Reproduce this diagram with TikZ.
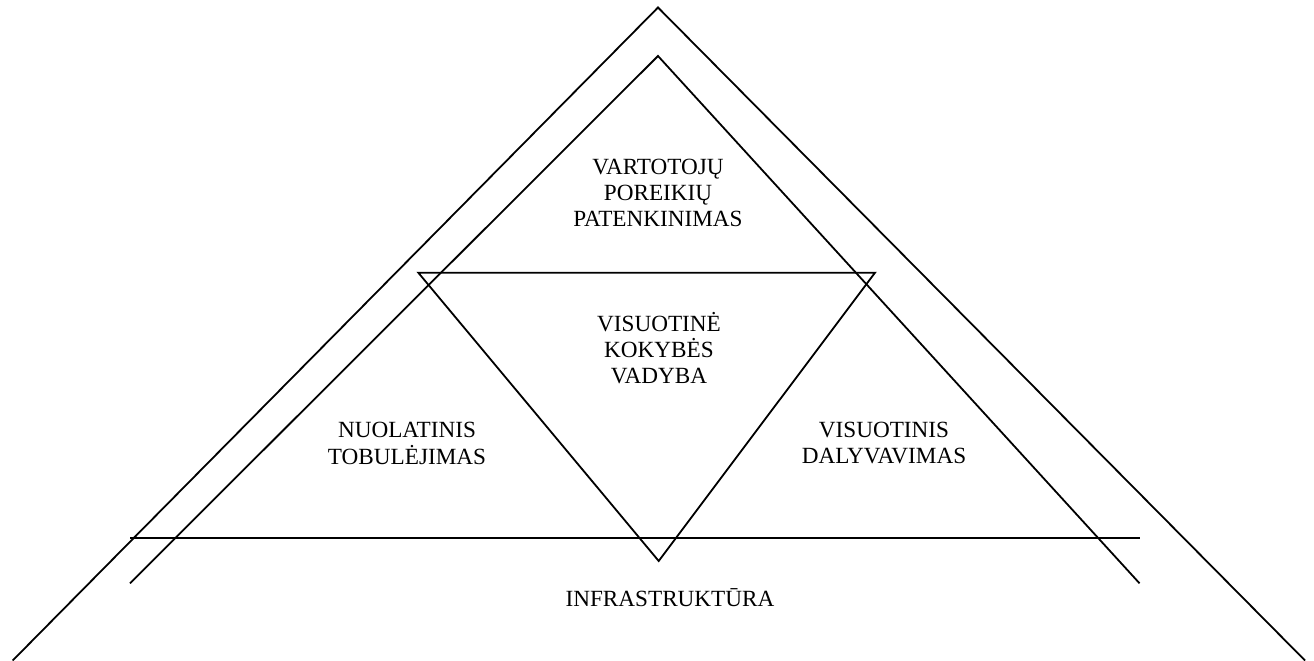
\documentclass[tikz,border=0pt]{standalone}
\usepackage{fontspec}
\setmainfont{Liberation Serif}
\begin{document}
\begin{tikzpicture}[x=1pt,y=1pt,
  ln/.style={line width=1.8pt,line join=miter},
  lbl/.style={font=\fontsize{23.2}{26.3}\selectfont,align=center,inner sep=0pt}]
\useasboundingbox (0,0) rectangle (1314,661);
% outer triangle (open)
\coordinate (oL) at (12.7,0.5);
\coordinate (oT) at (658,653.5);
\coordinate (oR) at (1305,0.5);
% inner triangle (open)
\coordinate (iL) at (130,77.7);
\coordinate (iT) at (658,605);
\coordinate (iR) at (1139.5,77.7);
% base line
\coordinate (bL) at (130,123.3);
\coordinate (bR) at (1139.5,123.3);
% inverted triangle
\coordinate (vL) at (418.3,388.3);
\coordinate (vR) at (875,388.3);
\coordinate (vB) at (658.7,100);
\draw[ln] (oL) -- (oT) -- (oR);
\draw[ln] (iL) -- (iT) -- (iR);
\draw[ln] (bL) -- (bR);
\draw[ln] (vL) -- (vR) -- (vB) -- cycle;
\node[lbl] (top) at (658,468) {VARTOTOJŲ\\POREIKIŲ\\PATENKINIMAS};
\node[lbl] (mid) at (659,313) {VISUOTINĖ\\KOKYBĖS\\VADYBA};
\node[lbl] (left) at (407,217.5) {NUOLATINIS\\TOBULĖJIMAS};
\node[lbl] (right) at (884,218) {VISUOTINIS\\DALYVAVIMAS};
\node[lbl,anchor=base] (infra) at (670,54) {INFRASTRUKTŪRA};
\end{tikzpicture}
\end{document}
